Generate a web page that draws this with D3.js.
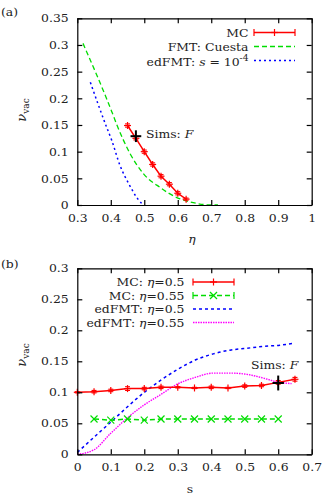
<!DOCTYPE html>
<html>
<head>
<meta charset="utf-8">
<script src="https://cdn.jsdelivr.net/npm/d3@7"></script>
<style>
body { margin: 0; background: #fff; }
</style>
</head>
<body>
<svg id="fig" width="332" height="499"></svg>
<script>
// ---- panel (a): vacancy fraction vs packing fraction ----
var mcEta = [0.45, 0.475, 0.5, 0.525, 0.55, 0.575, 0.6, 0.625];
var mcNu = [0.149, 0.125, 0.1, 0.076, 0.054, 0.039, 0.022, 0.011];
var mcErr = [0.003, 0.003, 0.003, 0.003, 0.003, 0.003, 0.003, 0.002];

var fmtEta = [0.317, 0.403, 0.419, 0.457, 0.497, 0.547, 0.597, 0.636, 0.7, 0.72];
var fmtNu = [0.303, 0.175, 0.149, 0.097, 0.059, 0.033, 0.014, 0.006, 0.0, 0.0];

var edEta = [0.339, 0.385, 0.403, 0.427, 0.457, 0.48, 0.497];
var edNu = [0.23, 0.15, 0.121, 0.075, 0.036, 0.012, 0.0];

var simsA = { x: 0.475, y: 0.129, dx: 0.016, dy: 0.011 };

var aXTicks = [0.3, 0.4, 0.5, 0.6, 0.7, 0.8, 0.9, 1];
var aXLabels = ["0.3", "0.4", "0.5", "0.6", "0.7", "0.8", "0.9", "1"];
var aYTicks = [0, 0.05, 0.1, 0.15, 0.2, 0.25, 0.3, 0.35];
var aYLabels = ["0", "0.05", "0.1", "0.15", "0.2", "0.25", "0.3", "0.35"];

// ---- panel (b): vacancy fraction vs s ----
var mcS05 = [0, 0.05, 0.1, 0.15, 0.2, 0.25, 0.3, 0.35, 0.4, 0.45, 0.5, 0.55, 0.6, 0.65];
var mcNu05 = [0.1, 0.101, 0.103, 0.106, 0.106, 0.108, 0.108, 0.107, 0.108, 0.107, 0.11, 0.111, 0.116, 0.121];
var mcErr05 = [0.001, 0.002, 0.002, 0.003, 0.002, 0.002, 0.001, 0.001, 0.002, 0.001, 0.002, 0.002, 0.003, 0.003];

var mcS055 = [0.05, 0.1, 0.15, 0.2, 0.25, 0.3, 0.35, 0.4, 0.45, 0.5, 0.55, 0.6];
var mcNu055 = [0.057, 0.055, 0.057, 0.055, 0.057, 0.057, 0.057, 0.057, 0.057, 0.057, 0.057, 0.057];

var edS05 = [0, 0.1, 0.198, 0.3, 0.352, 0.406, 0.456, 0.506, 0.555, 0.605, 0.645];
var edNu05 = [0.003, 0.052, 0.099, 0.137, 0.152, 0.162, 0.168, 0.171, 0.174, 0.176, 0.179];

var edS055 = [0, 0.049, 0.1, 0.148, 0.198, 0.248, 0.298, 0.352, 0.406, 0.456, 0.506, 0.555, 0.595, 0.64];
var edNu055 = [0, 0.007, 0.034, 0.058, 0.079, 0.096, 0.113, 0.124, 0.131, 0.131, 0.129, 0.123, 0.117, 0.114];

var simsB = { x: 0.6, y: 0.115, dx: 0.017, dy: 0.012 };

var bXTicks = [0, 0.1, 0.2, 0.3, 0.4, 0.5, 0.6, 0.7];
var bXLabels = ["0", "0.1", "0.2", "0.3", "0.4", "0.5", "0.6", "0.7"];
var bYTicks = [0, 0.05, 0.1, 0.15, 0.2, 0.25, 0.3];
var bYLabels = ["0", "0.05", "0.1", "0.15", "0.2", "0.25", "0.3"];

var RED = "#ff0000", GREEN = "#00dd00", BLUE = "#0000ff", MAGENTA = "#ff00ff";
var FONT = "DejaVu Serif";
var FS = 11.5;  // base font size
var SX = 1.08;  // text in the original is a bit wider than tall
var INK = "#222";

var svg = d3.select("#fig");

// Text with optional italic / sup pieces.
function label(g, x, y, anchor, parts, size) {
	var t = g.append("text")
		.attr("transform", "translate(" + x + "," + y + ") scale(" + SX + ",1)")
		.attr("text-anchor", anchor)
		.style("font-family", FONT)
		.attr("fill", INK)
		.style("font-size", (size || FS) + "px");
	parts.forEach(function (p) {
		var s = t.append("tspan").text(p.t);
		if (p.i) s.style("font-style", "italic");
		if (p.sup) s.attr("dy", -4.5).style("font-size", "8.5px");
	});
	return t;
}

// Box with inward ticks on all four sides.
function frame(x, y, xt, xl, yt, yl) {
	var x0 = x.range()[0], x1 = x.range()[1], y0 = y.range()[0], y1 = y.range()[1];
	var bottom = svg.append("g").attr("transform", "translate(0," + y0 + ")")
		.call(d3.axisBottom(x).tickValues(xt).tickFormat(function (d, i) { return xl[i]; })
			.tickSizeInner(-5).tickSizeOuter(0).tickPadding(9));
	var left = svg.append("g").attr("transform", "translate(" + x0 + ",0)")
		.call(d3.axisLeft(y).tickValues(yt).tickFormat(function (d, i) { return yl[i]; })
			.tickSizeInner(-5).tickSizeOuter(0).tickPadding(8));
	svg.append("g").attr("transform", "translate(0," + y1 + ")")
		.call(d3.axisTop(x).tickValues(xt).tickFormat("").tickSizeInner(-5).tickSizeOuter(0));
	svg.append("g").attr("transform", "translate(" + x1 + ",0)")
		.call(d3.axisRight(y).tickValues(yt).tickFormat("").tickSizeInner(-5).tickSizeOuter(0));
	svg.selectAll(".domain, .tick line").attr("stroke", "#000").attr("stroke-width", 1.2);
	[bottom, left].forEach(function (a) {
		a.attr("font-family", null).attr("font-size", null);
		a.selectAll(".tick text")
			.attr("transform", "scale(" + SX + ",1)")
			.attr("fill", INK)
			.style("font-family", FONT)
			.style("font-size", FS + "px");
	});
}

function curve(x, y, xs, ys, color, dash, w) {
	var pts = xs.map(function (d, i) { return [x(d), y(ys[i])]; });
	svg.append("path")
		.attr("d", d3.line().curve(d3.curveMonotoneX)(pts))
		.attr("fill", "none").attr("stroke", color)
		.attr("stroke-width", w || 1.3)
		.attr("stroke-dasharray", dash);
}

function polyline(x, y, xs, ys, color, dash) {
	var pts = xs.map(function (d, i) { return [x(d), y(ys[i])]; });
	svg.append("path")
		.attr("d", d3.line()(pts))
		.attr("fill", "none").attr("stroke", color)
		.attr("stroke-width", 1.5)
		.attr("stroke-dasharray", dash);
}

function errbars(x, y, xs, ys, es, color) {
	var g = svg.append("g").attr("stroke", color).attr("stroke-width", 1.1);
	xs.forEach(function (d, i) {
		var cx = x(d), ya = y(ys[i] - es[i]), yb = y(ys[i] + es[i]);
		g.append("line").attr("x1", cx).attr("x2", cx).attr("y1", ya).attr("y2", yb);
		g.append("line").attr("x1", cx - 2.5).attr("x2", cx + 2.5).attr("y1", ya).attr("y2", ya);
		g.append("line").attr("x1", cx - 2.5).attr("x2", cx + 2.5).attr("y1", yb).attr("y2", yb);
	});
}

function marker(cx, cy, kind, color) {
	var r = 3.5, g = svg.append("g").attr("stroke", color).attr("stroke-width", 1.2);
	if (kind === "plus") {
		g.append("line").attr("x1", cx - r).attr("x2", cx + r).attr("y1", cy).attr("y2", cy);
		g.append("line").attr("x1", cx).attr("x2", cx).attr("y1", cy - r).attr("y2", cy + r);
	} else {
		g.append("line").attr("x1", cx - r).attr("x2", cx + r).attr("y1", cy - r).attr("y2", cy + r);
		g.append("line").attr("x1", cx - r).attr("x2", cx + r).attr("y1", cy + r).attr("y2", cy - r);
	}
}

function sims(x, y, s) {
	var g = svg.append("g").attr("stroke", "#000").attr("stroke-width", 2);
	g.append("line").attr("x1", x(s.x - s.dx)).attr("x2", x(s.x + s.dx)).attr("y1", y(s.y)).attr("y2", y(s.y));
	g.append("line").attr("x1", x(s.x)).attr("x2", x(s.x)).attr("y1", y(s.y - s.dy)).attr("y2", y(s.y + s.dy));
}

// legend sample: line, optional caps and point in the middle
function legendSample(x1, x2, yy, color, dash, point, w) {
	svg.append("line").attr("x1", x1).attr("x2", x2).attr("y1", yy).attr("y2", yy)
		.attr("stroke", color).attr("stroke-width", w || 1.4).attr("stroke-dasharray", dash);
	if (point) {
		var g = svg.append("g").attr("stroke", color).attr("stroke-width", 1.2);
		g.append("line").attr("x1", x1).attr("x2", x1).attr("y1", yy - 3.5).attr("y2", yy + 3.5);
		g.append("line").attr("x1", x2).attr("x2", x2).attr("y1", yy - 3.5).attr("y2", yy + 3.5);
		marker((x1 + x2) / 2, yy, point, color);
	}
}

function yLabel(x, y) {
	svg.append("text").attr("transform", "translate(" + x + "," + y + ") rotate(-90)")
		.attr("text-anchor", "middle").style("font-family", FONT).attr("fill", INK)
		.style("font-size", "13px")
		.call(function (t) {
			t.append("tspan").style("font-style", "italic").text("ν");
			t.append("tspan").attr("dy", 3).style("font-size", "9px").text("vac");
		});
}

// ================= panel (a) =================
var ax = d3.scaleLinear().domain([0.3, 1]).range([77.3, 311.7]);
var ay = d3.scaleLinear().domain([0, 0.35]).range([205, 18.3]);

curve(ax, ay, edEta, edNu, BLUE, "2,3", 1.5);
curve(ax, ay, fmtEta, fmtNu, GREEN, "5,3", 1.3);
polyline(ax, ay, mcEta, mcNu, RED);
errbars(ax, ay, mcEta, mcNu, mcErr, RED);
mcEta.forEach(function (d, i) { marker(ax(d), ay(mcNu[i]), "plus", RED); });
sims(ax, ay, simsA);
frame(ax, ay, aXTicks, aXLabels, aYTicks, aYLabels);

label(svg, 146, 137.5, "start", [{ t: "Sims: " }, { t: "F", i: true }]);
label(svg, 248.5, 36.5, "end", [{ t: "MC" }]);
label(svg, 248.5, 50.5, "end", [{ t: "FMT: Cuesta" }]);
label(svg, 248.5, 65.5, "end", [{ t: "edFMT: " }, { t: "s", i: true }, { t: " = 10" }, { t: "-4", sup: true }]);
legendSample(254, 295, 32.5, RED, null, "plus");
legendSample(254, 295, 46.5, GREEN, "5,3");
legendSample(254, 295, 60.5, BLUE, "2,3", null, 1.5);

label(svg, 192, 243, "middle", [{ t: "η", i: true }]);
yLabel(26, 110);
label(svg, 1, 16, "start", [{ t: "(a)" }]);

// ================= panel (b) =================
var bx = d3.scaleLinear().domain([0, 0.7]).range([77.3, 311.7]);
var by = d3.scaleLinear().domain([0, 0.3]).range([454.3, 268.3]);

curve(bx, by, edS05, edNu05, BLUE, "3,3", 1.5);
curve(bx, by, edS055, edNu055, MAGENTA, "1.5,1", 1.4);
polyline(bx, by, mcS055, mcNu055, GREEN, "5,3");
mcS055.forEach(function (d, i) { marker(bx(d), by(mcNu055[i]), "cross", GREEN); });
polyline(bx, by, mcS05, mcNu05, RED);
errbars(bx, by, mcS05, mcNu05, mcErr05, RED);
mcS05.forEach(function (d, i) { marker(bx(d), by(mcNu05[i]), "plus", RED); });
sims(bx, by, simsB);
frame(bx, by, bXTicks, bXLabels, bYTicks, bYLabels);

label(svg, 251, 368.5, "start", [{ t: "Sims: " }, { t: "F", i: true }]);
label(svg, 184.5, 286, "end", [{ t: "MC: " }, { t: "η", i: true }, { t: "=0.5" }]);
label(svg, 184.5, 299.5, "end", [{ t: "MC: " }, { t: "η", i: true }, { t: "=0.55" }]);
label(svg, 184.5, 313, "end", [{ t: "edFMT: " }, { t: "η", i: true }, { t: "=0.5" }]);
label(svg, 184.5, 326.5, "end", [{ t: "edFMT: " }, { t: "η", i: true }, { t: "=0.55" }]);
legendSample(193, 234, 282, RED, null, "plus");
legendSample(193, 234, 295.5, GREEN, "5,3", "cross");
legendSample(193, 234, 309, BLUE, "3,3", null, 1.5);
legendSample(193, 234, 322.5, MAGENTA, "1.5,1", null, 1.4);

label(svg, 190, 493, "middle", [{ t: "s" }]);
yLabel(26, 355);
label(svg, 1, 268, "start", [{ t: "(b)" }]);
</script>
</body>
</html>
